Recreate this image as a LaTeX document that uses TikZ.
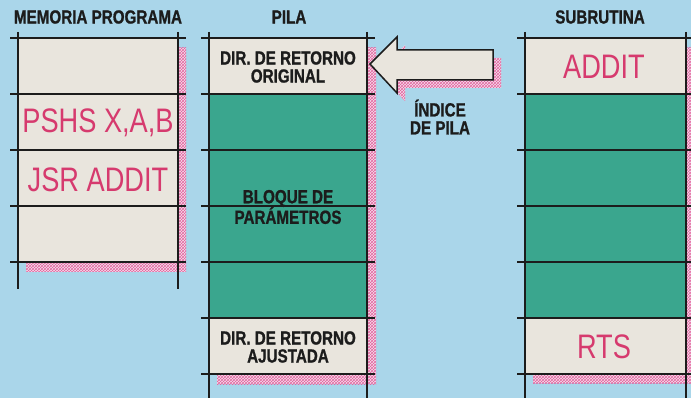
\documentclass[tikz,border=0pt]{standalone}
\usepackage{fontspec}
\usetikzlibrary{patterns}
\newfontfamily\labfont{Liberation Sans Bold}[FakeStretch=0.8,FakeBold=1]
\newfontfamily\codefont{Liberation Sans}[FakeStretch=0.8]
\definecolor{bgblue}{RGB}{170,214,234}
\definecolor{tealc}{RGB}{58,166,142}
\definecolor{beigec}{RGB}{233,229,221}
\definecolor{pinkc}{RGB}{214,58,110}
\definecolor{shpink}{RGB}{228,100,160}
\definecolor{shlight}{RGB}{244,224,236}
\definecolor{inkc}{RGB}{28,28,28}
\tikzset{
  x=1pt, y=-1pt,
  cell/.style={inner sep=0pt, outer sep=0pt, anchor=north west, minimum height=56pt},
  beigecell/.style={cell, fill=beigec},
  tealcell/.style={cell, fill=tealc},
  grid/.style={draw=inkc, line width=1.8pt},
  shadowfill/.style={fill=shlight},
  shadowhatch/.style={pattern=crosshatch, pattern color=shpink},
  lab/.style={font=\labfont\fontsize{19}{19}\selectfont, text=inkc, align=center, inner sep=0pt},
  code/.style={font=\codefont\fontsize{34}{34}\selectfont, text=pinkc, inner sep=0pt}
}
\begin{document}
\begin{tikzpicture}
\fill[bgblue] (0,0) rectangle (691,398);
\useasboundingbox (0,0) rectangle (691,398);
% shadows
\fill[shadowfill] (26,48) rectangle (186,272);
\fill[shadowhatch] (26,48) rectangle (186,272);
\fill[shadowfill] (217,48) rectangle (376,384);
\fill[shadowhatch] (217,48) rectangle (376,384);
\fill[shadowfill] (533,48) rectangle (694,383);
\fill[shadowhatch] (533,48) rectangle (694,383);
\fill[shadowfill] (378,72) -- (405,45) -- (405,58) -- (501,58) -- (501,88) -- (405,88) -- (405,101) -- cycle;
\fill[shadowhatch] (378,72) -- (405,45) -- (405,58) -- (501,58) -- (501,88) -- (405,88) -- (405,101) -- cycle;
% memoria programa
\node[beigecell, minimum width=160pt] (m1) at (18,38) {};
\node[beigecell, minimum width=160pt] (m2) at (18,94) {};
\node[beigecell, minimum width=160pt] (m3) at (18,150) {};
\node[beigecell, minimum width=160pt] (m4) at (18,206) {};
% pila
\node[beigecell, minimum width=158pt] (p1) at (209,38) {};
\node[tealcell, minimum width=158pt] (p2) at (209,94) {};
\node[tealcell, minimum width=158pt] (p3) at (209,150) {};
\node[tealcell, minimum width=158pt] (p4) at (209,206) {};
\node[tealcell, minimum width=158pt] (p5) at (209,262) {};
\node[beigecell, minimum width=158pt] (p6) at (209,318) {};
% subrutina
\node[beigecell, minimum width=161pt] (s1) at (525,38) {};
\node[tealcell, minimum width=161pt] (s2) at (525,94) {};
\node[tealcell, minimum width=161pt] (s3) at (525,150) {};
\node[tealcell, minimum width=161pt] (s4) at (525,206) {};
\node[tealcell, minimum width=161pt] (s5) at (525,262) {};
\node[beigecell, minimum width=161pt] (s6) at (525,318) {};
% grid lines
\foreach \yy in {38,94,150,206,262} { \draw[grid] (10,\yy) -- (186,\yy); }
\draw[grid] (18,32) -- (18,289);
\draw[grid] (178,32) -- (178,289);
\foreach \yy in {38,94,150,206,262,318,374} { \draw[grid] (201,\yy) -- (375,\yy); }
\draw[grid] (209,32) -- (209,398);
\draw[grid] (367,32) -- (367,398);
\foreach \yy in {38,94,150,206,262,318,374} { \draw[grid] (517,\yy) -- (691,\yy); }
\draw[grid] (525,32) -- (525,398);
\draw[grid] (686,32) -- (686,398);
% arrow
\draw[fill=beigec, draw=inkc, line width=1.5pt, line join=miter] (370,64) -- (397,37) -- (397,50) -- (493,50) -- (493,80) -- (397,80) -- (397,93) -- cycle;
% titles
\node[lab] (t1) at (98,17) {MEMORIA PROGRAMA};
\node[lab] (t2) at (289,17) {PILA};
\node[lab] (t3) at (600,17) {SUBRUTINA};
% texts
\node[lab] (l1) at (288,67) {DIR. DE RETORNO\\[-1pt]ORIGINAL};
\node[lab] (l2) at (288,207) {BLOQUE DE\\[-1pt]PARÁMETROS};
\node[lab] (l3) at (288,347) {DIR. DE RETORNO\\[-1pt]AJUSTADA};
\node[lab] (l4) at (440,117) {ÍNDICE\\[-1pt]DE PILA};
\node[code] (c1) at (98,123) {PSHS X,A,B};
\node[code] (c2) at (98,180) {JSR ADDIT};
\node[code] (c3) at (604,67) {ADDIT};
\node[code] (c4) at (604,347) {RTS};
\end{tikzpicture}
\end{document}
